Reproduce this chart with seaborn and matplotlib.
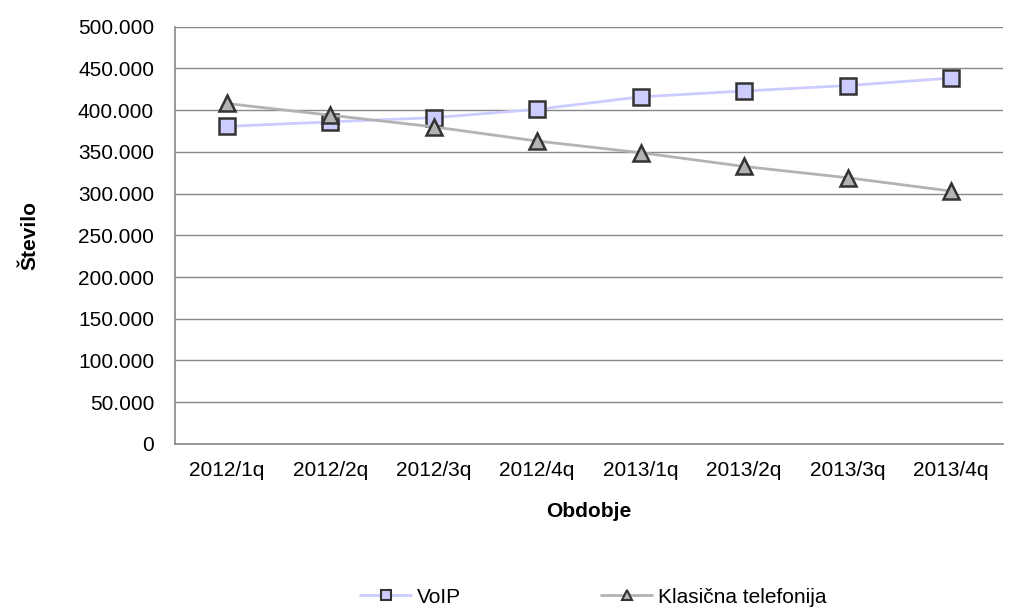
import pandas as pd
import numpy as np
import matplotlib
matplotlib.use("Agg")
import matplotlib.pyplot as plt
import seaborn as sns
from matplotlib.ticker import FuncFormatter, FixedLocator
from matplotlib.lines import Line2D

obdobja = ["2012/1q", "2012/2q", "2012/3q", "2012/4q",
           "2013/1q", "2013/2q", "2013/3q", "2013/4q"]
voip = [380500, 386000, 391000, 401000, 416000, 423000, 429500, 438500]
klasicna = [408000, 394000, 380000, 363000, 349000, 332500, 319000, 303000]

sns.set_style("white")
plt.rcParams["font.family"] = ["Liberation Sans", "DejaVu Sans"]
plt.rcParams["text.color"] = "black"
plt.rcParams["xtick.color"] = "black"
plt.rcParams["ytick.color"] = "black"
plt.rcParams["axes.labelcolor"] = "black"

df = pd.DataFrame({"Obdobje": obdobja * 2,
                   "Število": voip + klasicna,
                   "serija": ["VoIP"] * 8 + ["Klasična telefonija"] * 8})
df["x"] = list(range(8)) * 2

fig = plt.figure(figsize=(10.11, 6.08), dpi=100)
ax = fig.add_axes([0.173, 0.270, 0.819, 0.686])

sns.lineplot(data=df, x="x", y="Število", hue="serija", style="serija",
             palette={"VoIP": "#CCCCFF", "Klasična telefonija": "#B3B3B3"},
             markers={"VoIP": "s", "Klasična telefonija": "^"},
             dashes=False, linewidth=2, markersize=11,
             markeredgecolor="#333333", markeredgewidth=1.8, ax=ax, legend=False)
for line, fc in zip(ax.lines, ["#CCCCFF", "#B3B3B3"]):
    line.set_markerfacecolor(fc)

ax.set_xlim(-0.5, 7.5)
ax.set_ylim(0, 500000)
ax.set_yticks(np.arange(0, 500001, 50000))
ax.yaxis.set_major_formatter(FuncFormatter(lambda v, p: f"{int(v):,}".replace(",", ".")))
ax.set_xticks(range(8))
ax.set_xticklabels(obdobja)
ax.xaxis.set_minor_locator(FixedLocator(np.arange(-0.5, 8, 1)))
ax.tick_params(axis="x", which="major", length=0, labelsize=15, pad=12)
ax.tick_params(axis="x", which="minor", length=6, color="#888888", width=1)
ax.tick_params(axis="y", length=6, color="#888888", labelsize=15, pad=9)
ax.grid(axis="y", color="#888888", linewidth=1)
for s in ["top", "right"]:
    ax.spines[s].set_visible(False)
for s in ["left", "bottom"]:
    ax.spines[s].set_color("#888888")
    ax.spines[s].set_linewidth(1.2)

ax.set_xlabel("Obdobje", fontsize=15, fontweight="bold", labelpad=16)
ax.set_ylabel("Število", fontsize=15, fontweight="bold", labelpad=28)

handles = [Line2D([], [], color="#CCCCFF", lw=2, marker="s", markersize=7,
                  markerfacecolor="#CCCCFF", markeredgecolor="#333333", markeredgewidth=1.5),
           Line2D([], [], color="#B3B3B3", lw=2, marker="^", markersize=7,
                  markerfacecolor="#B3B3B3", markeredgecolor="#333333", markeredgewidth=1.5)]
fig.legend(handles, ["VoIP", "Klasična telefonija"], loc="center",
           bbox_to_anchor=(0.587, 0.018), ncol=2, frameon=False,
           fontsize=15, columnspacing=6.7, handlelength=2.45, handletextpad=0.3)

fig.savefig("out.png", dpi=100)
